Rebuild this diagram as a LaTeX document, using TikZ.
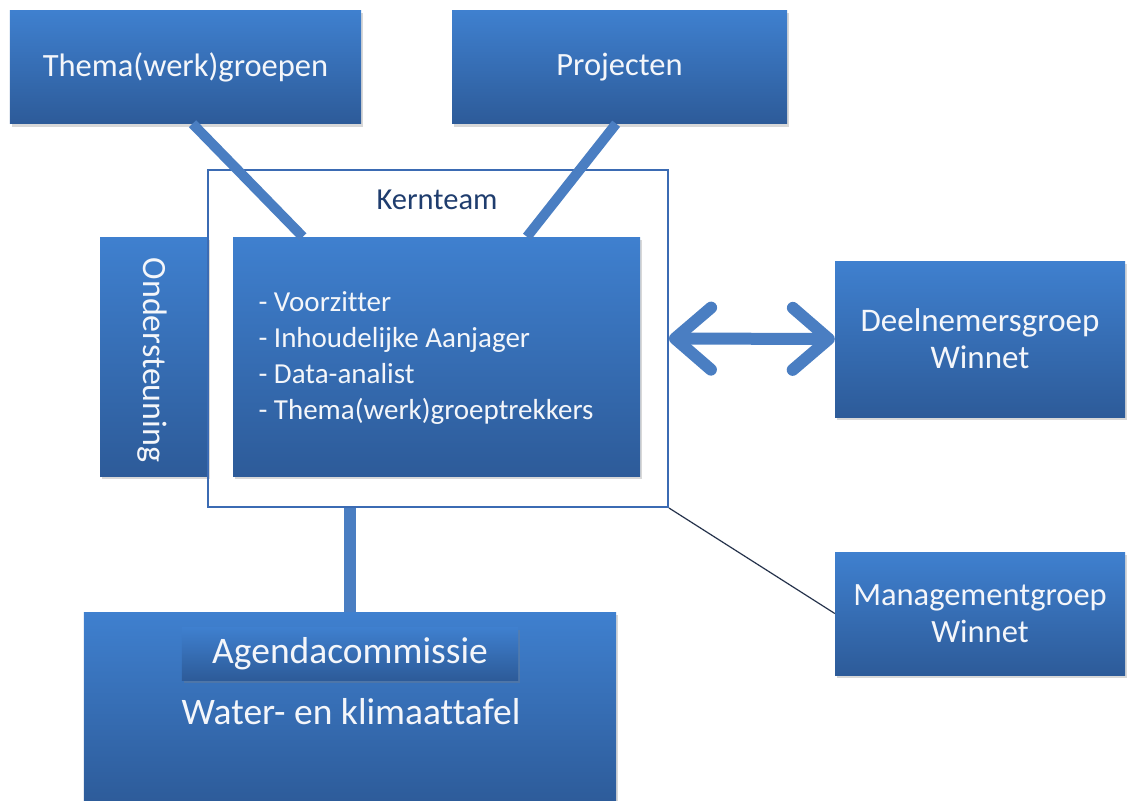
\documentclass[tikz,border=0pt]{standalone}
\usepackage{fontspec}
\setmainfont{Carlito}[Ligatures=NoCommon]
\usetikzlibrary{shadows,calc,arrows.meta}
\definecolor{boxtop}{HTML}{3F80CF}
\definecolor{boxbot}{HTML}{2D5B99}
\definecolor{conn}{HTML}{4A7EC2}
\definecolor{framec}{HTML}{3B6BB3}
\definecolor{kerntxt}{HTML}{1F3D6E}
\definecolor{mgline}{HTML}{27344D}
\definecolor{txt}{HTML}{F4F6FA}
\begin{document}
\begin{tikzpicture}[x=1bp,y=-1bp,
  bluebox/.style={rectangle, top color=boxtop, bottom color=boxbot, draw=none,
    text=txt, align=center, inner sep=0pt,
    drop shadow={shadow xshift=2bp, shadow yshift=-3bp, opacity=0.3}},
  conline/.style={draw=conn, line width=10bp},
  framebox/.style={rectangle, draw=framec, line width=2bp, inner sep=0pt},
  f32/.style={font=\fontsize{32.5bp}{37bp}\selectfont},
  f33/.style={font=\fontsize{33bp}{37bp}\selectfont},
  f29/.style={font=\fontsize{29bp}{36bp}\selectfont},
  f37/.style={font=\fontsize{37.5bp}{42bp}\selectfont}]
\useasboundingbox (0,0) rectangle (1129,801);
\fill[white] (0,0) rectangle (1129,801);

% boxes
\node[bluebox, f32, minimum width=351bp, minimum height=113bp] (thema) at (185.5,67) {Thema(werk)groepen};
\node[bluebox, f32, minimum width=335bp, minimum height=113bp] (proj) at (619.5,67) {Projecten};
\node[bluebox, minimum width=108bp, minimum height=239bp] (onder) at (154,356.5) {};
\node[text=txt, font=\fontsize{34bp}{40bp}\selectfont, rotate=-90] (ondertxt) at (152,360) {Ondersteuning};
\node[framebox, minimum width=460bp, minimum height=337bp] (frame) at (438,338.5) {};
\node[text=kerntxt, font=\fontsize{30.5bp}{36bp}\selectfont] (kernlbl) at (437,200) {Kernteam};
\node[bluebox, minimum width=407bp, minimum height=239bp] (kern) at (436.5,356.5) {};
\node[text=txt, f29, anchor=west, align=left] (kernlist) at (255,358)
  {- Voorzitter\\- Inhoudelijke Aanjager\\- Data-analist\\- Thema(werk)groeptrekkers};
\node[bluebox, f33, minimum width=290bp, minimum height=156bp] (deel) at (980,339) {Deelnemersgroep\\Winnet};
\node[bluebox, f32, minimum width=290bp, minimum height=123bp] (mgmt) at (980,613.5) {Managementgroep\\Winnet};
\node[bluebox, minimum width=532bp, minimum height=193bp] (big) at (350,708.5) {};
\node[bluebox, f37, minimum width=336bp, minimum height=53bp] (agenda) at (350,653.5) {Agendacommissie};
\node[text=txt, f37] (water) at (351,712) {Water- en klimaattafel};

% connectors
\draw[conline] ($(thema.south west)!0.52!(thema.south east)$) -- ($(kern.north west)!0.172!(kern.north east)$);
\draw[conline] ($(proj.south west)!0.49!(proj.south east)$) -- ($(kern.north west)!0.722!(kern.north east)$);
\draw[draw=conn, line width=12bp] (big.north |- frame.south) -- (big.north);
\draw[draw=mgline, line width=1.2bp] (frame.south east) -- (mgmt.west);
\draw[draw=conn, line width=12bp, {Straight Barb[round,length=36bp,width=62bp]}-{Straight Barb[round,length=36bp,width=62bp]}] (frame.east) -- (deel.west);
\end{tikzpicture}
\end{document}
